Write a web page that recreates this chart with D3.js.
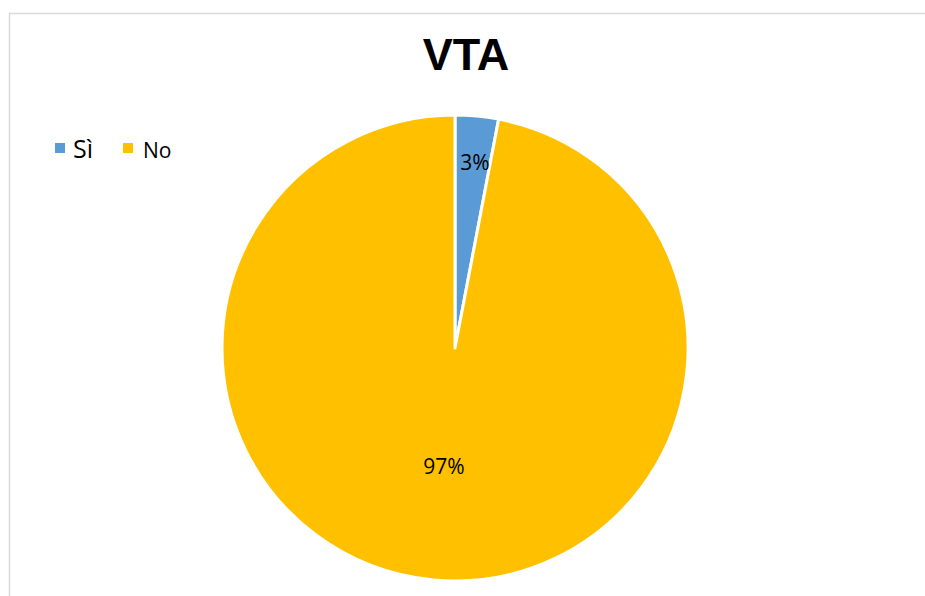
<!DOCTYPE html>
<html><head><meta charset="utf-8">
<script src="https://cdn.jsdelivr.net/npm/d3@7"></script>
<style>body{margin:0;background:#fff;}svg{display:block;}</style>
</head><body>
<svg id="c" width="925" height="596"></svg>
<script>
const categories = ["Sì", "No"];
const values = [3, 97];
const labels = ["3%", "97%"];
const colors = ["#5B9BD5", "#FFC000"];
const title = "VTA";

const svg = d3.select("#c");
const font = "'Open Sans', 'Liberation Sans', sans-serif";

// chart border
svg.append("path").attr("d", "M9.5,596 V13.5 H925").attr("fill", "none").attr("stroke", "#d9d9d9").attr("stroke-width", 1.5);

svg.append("text").attr("x", 466).attr("y", 70).attr("text-anchor", "middle")
  .attr("font-family", "'Liberation Sans', Arial, sans-serif").attr("font-weight", "bold")
  .attr("font-size", 45).attr("fill", "#000").text(title);

const cx = 455, cy = 348, r = 233;
const color = d3.scaleOrdinal().domain(categories).range(colors);
const pie = d3.pie().sort(null).value(d => d.v);
const data = categories.map((c, i) => ({c, v: values[i], l: labels[i]}));
const arcs = pie(data);
const arc = d3.arc().innerRadius(0).outerRadius(r);
const g = svg.append("g").attr("transform", `translate(${cx},${cy})`);
g.selectAll("path").data(arcs).join("path")
  .attr("d", arc).attr("fill", d => color(d.data.c))
  .attr("stroke", "#fff").attr("stroke-width", 3).attr("stroke-linejoin", "round");

const labelPos = [[20, -178], [-11, 126]];
g.selectAll("text.lbl").data(arcs).join("text").attr("class", "lbl")
  .attr("x", (d, i) => labelPos[i][0]).attr("y", (d, i) => labelPos[i][1])
  .attr("text-anchor", "middle").attr("font-family", font).attr("font-size", 21)
  .attr("fill", "#000").text(d => d.data.l);

// legend
const legX = [55, 123], txtX = [73, 143], txtSize = [25, 21];
const leg = svg.append("g");
categories.forEach((c, i) => {
  leg.append("rect").attr("x", legX[i]).attr("y", 143).attr("width", 10).attr("height", 10).attr("fill", color(c));
  leg.append("text").attr("x", txtX[i]).attr("y", 158).attr("font-family", font)
    .attr("font-size", txtSize[i]).attr("fill", "#000").text(c);
});
</script>
</body></html>
